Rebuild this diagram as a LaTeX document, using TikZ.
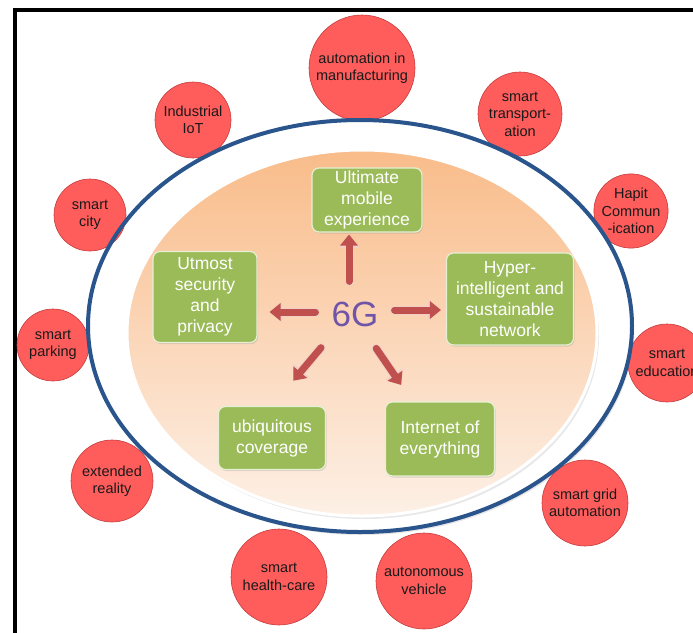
\documentclass[tikz,border=0pt]{standalone}
\usepackage{fontspec}
\setmainfont{Liberation Sans}
\usepackage{tikz}
\usetikzlibrary{arrows.meta, calc, shadows}
\definecolor{ringblue}{RGB}{42,84,140}
\definecolor{coretop}{RGB}{249,188,138}
\definecolor{corebot}{RGB}{253,240,230}
\definecolor{goalgreen}{RGB}{155,187,89}
\definecolor{goaledge}{RGB}{228,240,212}
\definecolor{appred}{RGB}{255,92,92}
\definecolor{appedge}{RGB}{196,60,60}
\definecolor{arrowred}{RGB}{192,80,77}
\definecolor{arrowedge}{RGB}{242,206,200}
\definecolor{gpurple}{RGB}{112,84,168}
\tikzset{
  goalbox/.style={rectangle, draw=goaledge, fill=goalgreen, text=white,
    align=center, rounded corners=7pt, line width=1.2pt, inner sep=0pt,
    font=\fontsize{17.5}{21}\selectfont,
    drop shadow={opacity=0.25, shadow xshift=1pt, shadow yshift=-1.5pt}},
  appcircle/.style={circle, draw=appedge, fill=appred, inner sep=0pt,
    align=center, line width=0.6pt, text=black!90,
    font=\fontsize{14.5}{17.5}\selectfont},
  bigarrow/.style={line width=7pt, arrowred, line cap=round,
    -{Triangle[length=11pt, width=18pt, line width=0pt]},
    preaction={draw=arrowedge, line width=9pt, line cap=round,
      -{Triangle[length=13pt, width=21pt, line width=0pt]}}}
}
\begin{document}
\begin{tikzpicture}[x=1pt, y=-1pt]
  \useasboundingbox (0,0) rectangle (693,632);
  \draw[line width=4pt] (14.5,640) -- (14.5,9.5) -- (700,9.5);

  % white ring behind the application circles
  \fill[white, drop shadow={opacity=0.2, shadow xshift=2pt, shadow yshift=-3pt}]
    (360,326) ellipse [x radius=272pt, y radius=206pt];

  \node[appcircle, minimum size=106pt] (mfg) at (362,68) {automation in\\manufacturing};
  \node[appcircle, minimum size=76pt] (iiot) at (193,120) {Industrial\\IoT};
  \node[appcircle, minimum size=84pt] (trans) at (520,114) {smart\\transport-\\ation};
  \node[appcircle, minimum size=72pt] (hapit) at (631,211) {Hapit\\Commun\\-ication};
  \node[appcircle, minimum size=72pt] (city) at (90,215) {smart\\city};
  \node[appcircle, minimum size=72pt] (parking) at (53,345) {smart\\parking};
  \node[appcircle, minimum size=78pt] (edu) at (667,363) {smart\\education};
  \node[appcircle, minimum size=86pt] (grid) at (585,503) {smart grid\\automation};
  \node[appcircle, minimum size=96pt] (auto) at (424,581) {autonomous\\vehicle};
  \node[appcircle, minimum size=96pt] (health) at (279,577) {smart\\health-care};
  \node[appcircle, minimum size=82pt] (xr) at (112,481) {extended\\reality};

  \draw[ringblue, line width=4pt] (360,326) ellipse [x radius=272pt, y radius=206pt];
  \shade[top color=coretop, bottom color=corebot, draw=white, line width=3pt,
    drop shadow={opacity=0.18, shadow xshift=2pt, shadow yshift=-3pt}]
    (362,333) ellipse [x radius=235pt, y radius=183pt];

  % 6G and its goals
  \node[text=gpurple, inner sep=2pt, font=\fontsize{35}{40}\selectfont] (sixg) at (355,314) {6G};
  \node[goalbox, minimum width=110pt, minimum height=64pt] (ume) at (367,200) {Ultimate\\mobile\\experience};
  \node[goalbox, minimum width=104pt, minimum height=91pt] (sec) at (205,297) {Utmost\\security\\and\\privacy};
  \node[goalbox, minimum width=127pt, minimum height=92pt] (hyp) at (510,299) {Hyper-\\intelligent and\\sustainable\\network};
  \node[goalbox, minimum width=107pt, minimum height=63pt] (ubq) at (272,438) {ubiquitous\\coverage};
  \node[goalbox, minimum width=109pt, minimum height=74pt] (ioe) at (440,439) {Internet of\\everything};

  \draw[bigarrow, shorten <=18pt, shorten >=2pt]
    ([xshift=-6pt]sixg.north) -- ([xshift=-6pt]sixg.north |- ume.south);
  \draw[bigarrow, shorten <=14pt, shorten >=12pt]
    ([yshift=2pt]sixg.west) -- ([yshift=2pt]sixg.west -| sec.east);
  \draw[bigarrow, shorten <=14pt, shorten >=5pt]
    ([yshift=4pt]sixg.east) -- ([yshift=4pt]sixg.east -| hyp.west);
  \draw[bigarrow, shorten <=25pt, shorten >=33pt]
    ($(sixg.south west)!0.3!(sixg.south)$) -- (ubq.north);
  \draw[bigarrow, shorten <=24pt, shorten >=20pt]
    ($(sixg.south)!0.3!(sixg.south east)$) -- ($(ioe.north west)!0.5!(ioe.north)$);
\end{tikzpicture}
\end{document}
